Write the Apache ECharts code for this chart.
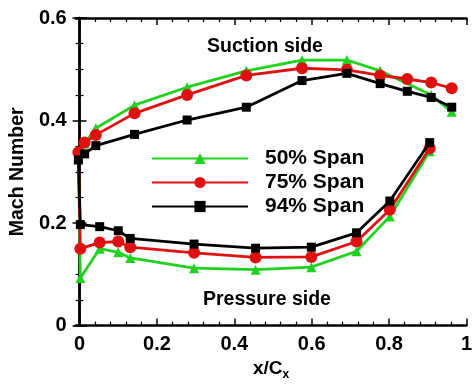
<!DOCTYPE html>
<html><head><meta charset="utf-8">
<script src="https://cdn.jsdelivr.net/npm/echarts@6/dist/echarts.min.js"></script>
<style>html,body{margin:0;padding:0;background:#fff}#c{width:475px;height:386px}</style>
</head><body><div id="c"></div>
<script>
// Data
const seriesNames = ['50% Span', '75% Span', '94% Span'];
const suctionX   = [-0.003, 0.013, 0.042, 0.142, 0.278, 0.431, 0.575, 0.691, 0.777, 0.847, 0.909, 0.962];
const suction50  = [0.330, 0.355, 0.385, 0.430, 0.465, 0.497, 0.518, 0.518, 0.497, null, 0.450, 0.417];
const suction75  = [0.338, 0.357, 0.372, 0.414, 0.450, 0.488, 0.502, 0.499, 0.488, 0.481, 0.474, 0.463];
const suction94  = [0.323, 0.335, 0.351, 0.373, 0.401, 0.426, 0.478, 0.492, 0.472, 0.457, 0.445, 0.426];
const pressureX  = [0.002, 0.052, 0.100, 0.131, 0.296, 0.455, 0.599, 0.716, 0.802, 0.905];
const pressure50 = [0.093, 0.150, 0.143, 0.132, 0.112, 0.109, 0.114, 0.145, 0.213, 0.340];
const pressure75 = [0.150, 0.162, 0.164, 0.153, 0.142, 0.133, 0.134, 0.164, 0.226, 0.346];
const pressure94 = [0.197, 0.193, 0.185, 0.170, 0.159, 0.151, 0.153, 0.181, 0.243, 0.357];
const xMajorTicks = [0, 0.2, 0.4, 0.6, 0.8, 1.0];
const xMinorTicks = [0.04,0.08,0.12,0.16,0.24,0.28,0.32,0.36,0.44,0.48,0.52,0.56,0.64,0.68,0.72,0.76,0.84,0.88,0.92,0.96];

const colors = ['#1ed21e', '#e01010', '#000000'];
const symbols = ['triangle', 'circle', 'rect'];
const symbolSizes = [10, 12, 9];
const suctionSets = [suction50, suction75, suction94];
const pressureSets = [pressure50, pressure75, pressure94];

function buildLoop(sVals, pVals) {
  const pts = [];
  for (let i = suctionX.length - 1; i >= 0; i--) {
    if (sVals[i] !== null) pts.push([suctionX[i], sVals[i]]);
  }
  for (let i = 0; i < pressureX.length; i++) pts.push([pressureX[i], pVals[i]]);
  return pts;
}

const FONT = '"Liberation Sans", Arial, Helvetica, sans-serif';
const chart = echarts.init(document.getElementById('c'));

const xBase = { type: 'value', min: -0.01, max: 1.0, splitLine: { show: false } };
const yBase = { type: 'value', min: 0, max: 0.6, interval: 0.2, splitLine: { show: false } };
const axLine = { show: true, lineStyle: { color: '#000', width: 2.5 } };

const option = {
  animation: false,
  backgroundColor: '#fff',
  grid: { left: 72, right: 2, top: 18, bottom: 50, containLabel: false },
  xAxis: [
    Object.assign({}, xBase, {
      position: 'bottom',
      axisLine: axLine,
      axisTick: { show: true, inside: true, length: 7, customValues: xMajorTicks, lineStyle: { color: '#000', width: 1.5 } },
      axisLabel: { show: true, customValues: xMajorTicks, margin: 9, color: '#000', fontSize: 20, fontWeight: 'bold', fontFamily: FONT,
                   formatter: v => (Math.abs(v - 1) < 1e-9 ? '1' : (v === 0 ? '0' : String(+v.toFixed(1)))) },
      name: '{a|x/C}{b|x}',
      nameLocation: 'middle',
      nameGap: 28,
      nameTextStyle: { rich: {
        a: { fontSize: 19, fontWeight: 'bold', fontFamily: FONT, color: '#000' },
        b: { fontSize: 12, fontWeight: 'bold', fontFamily: FONT, color: '#000', padding: [12, 0, 0, 0] }
      } }
    }),
    Object.assign({}, xBase, {
      position: 'bottom',
      axisLine: { show: false },
      axisTick: { show: true, inside: true, length: 4, customValues: xMinorTicks, lineStyle: { color: '#000', width: 1.2 } },
      axisLabel: { show: false }
    }),
    Object.assign({}, xBase, {
      position: 'top',
      axisLine: axLine,
      axisTick: { show: true, inside: true, length: 7, customValues: xMajorTicks, lineStyle: { color: '#000', width: 1.5 } },
      axisLabel: { show: false }
    }),
    Object.assign({}, xBase, {
      position: 'top',
      axisLine: { show: false },
      axisTick: { show: true, inside: true, length: 4, customValues: xMinorTicks, lineStyle: { color: '#000', width: 1.2 } },
      axisLabel: { show: false }
    })
  ],
  yAxis: [
    Object.assign({}, yBase, {
      position: 'left',
      axisLine: axLine,
      axisTick: { show: true, inside: true, length: 7, lineStyle: { color: '#000', width: 1.5 } },
      minorTick: { show: true, splitNumber: 4, length: 4, lineStyle: { color: '#000', width: 1.2 } },
      axisLabel: { show: true, margin: 9, color: '#000', fontSize: 20, fontWeight: 'bold', fontFamily: FONT,
                   formatter: v => (v === 0 ? '0' : v.toFixed(1)) },
      name: 'Mach Number',
      nameLocation: 'middle',
      nameGap: 41,
      nameTextStyle: { fontSize: 19.5, fontWeight: 'bold', fontFamily: FONT, color: '#000' }
    }),
    Object.assign({}, yBase, {
      position: 'right',
      axisLine: axLine,
      axisTick: { show: true, inside: true, length: 7, lineStyle: { color: '#000', width: 1.5 } },
      minorTick: { show: true, splitNumber: 4, length: 4, lineStyle: { color: '#000', width: 1.2 } },
      axisLabel: { show: false }
    })
  ],
  legend: {
    orient: 'vertical',
    left: 146,
    top: 143,
    itemWidth: 96,
    itemHeight: 14,
    itemGap: 3,
    data: seriesNames,
    textStyle: { fontSize: 21, lineHeight: 21, fontWeight: 'bold', fontFamily: FONT, color: '#000', padding: [0, 0, 0, 12] }
  },
  graphic: [
    { type: 'text', left: 207, top: 37, style: { text: 'Suction side', font: 'bold 19.5px ' + FONT, fill: '#000' } },
    { type: 'text', left: 203, top: 290, style: { text: 'Pressure side', font: 'bold 19.5px ' + FONT, fill: '#000' } }
  ],
  series: seriesNames.map((name, k) => ({
    name: name,
    type: 'line',
    xAxisIndex: 0,
    yAxisIndex: 0,
    data: buildLoop(suctionSets[k], pressureSets[k]),
    symbol: symbols[k],
    symbolSize: symbolSizes[k],
    showAllSymbol: true,
    clip: false,
    color: colors[k],
    lineStyle: { color: colors[k], width: 2.8 },
    itemStyle: { color: colors[k] },
    z: 2 + k
  }))
};
chart.setOption(option);
</script>
</body></html>
